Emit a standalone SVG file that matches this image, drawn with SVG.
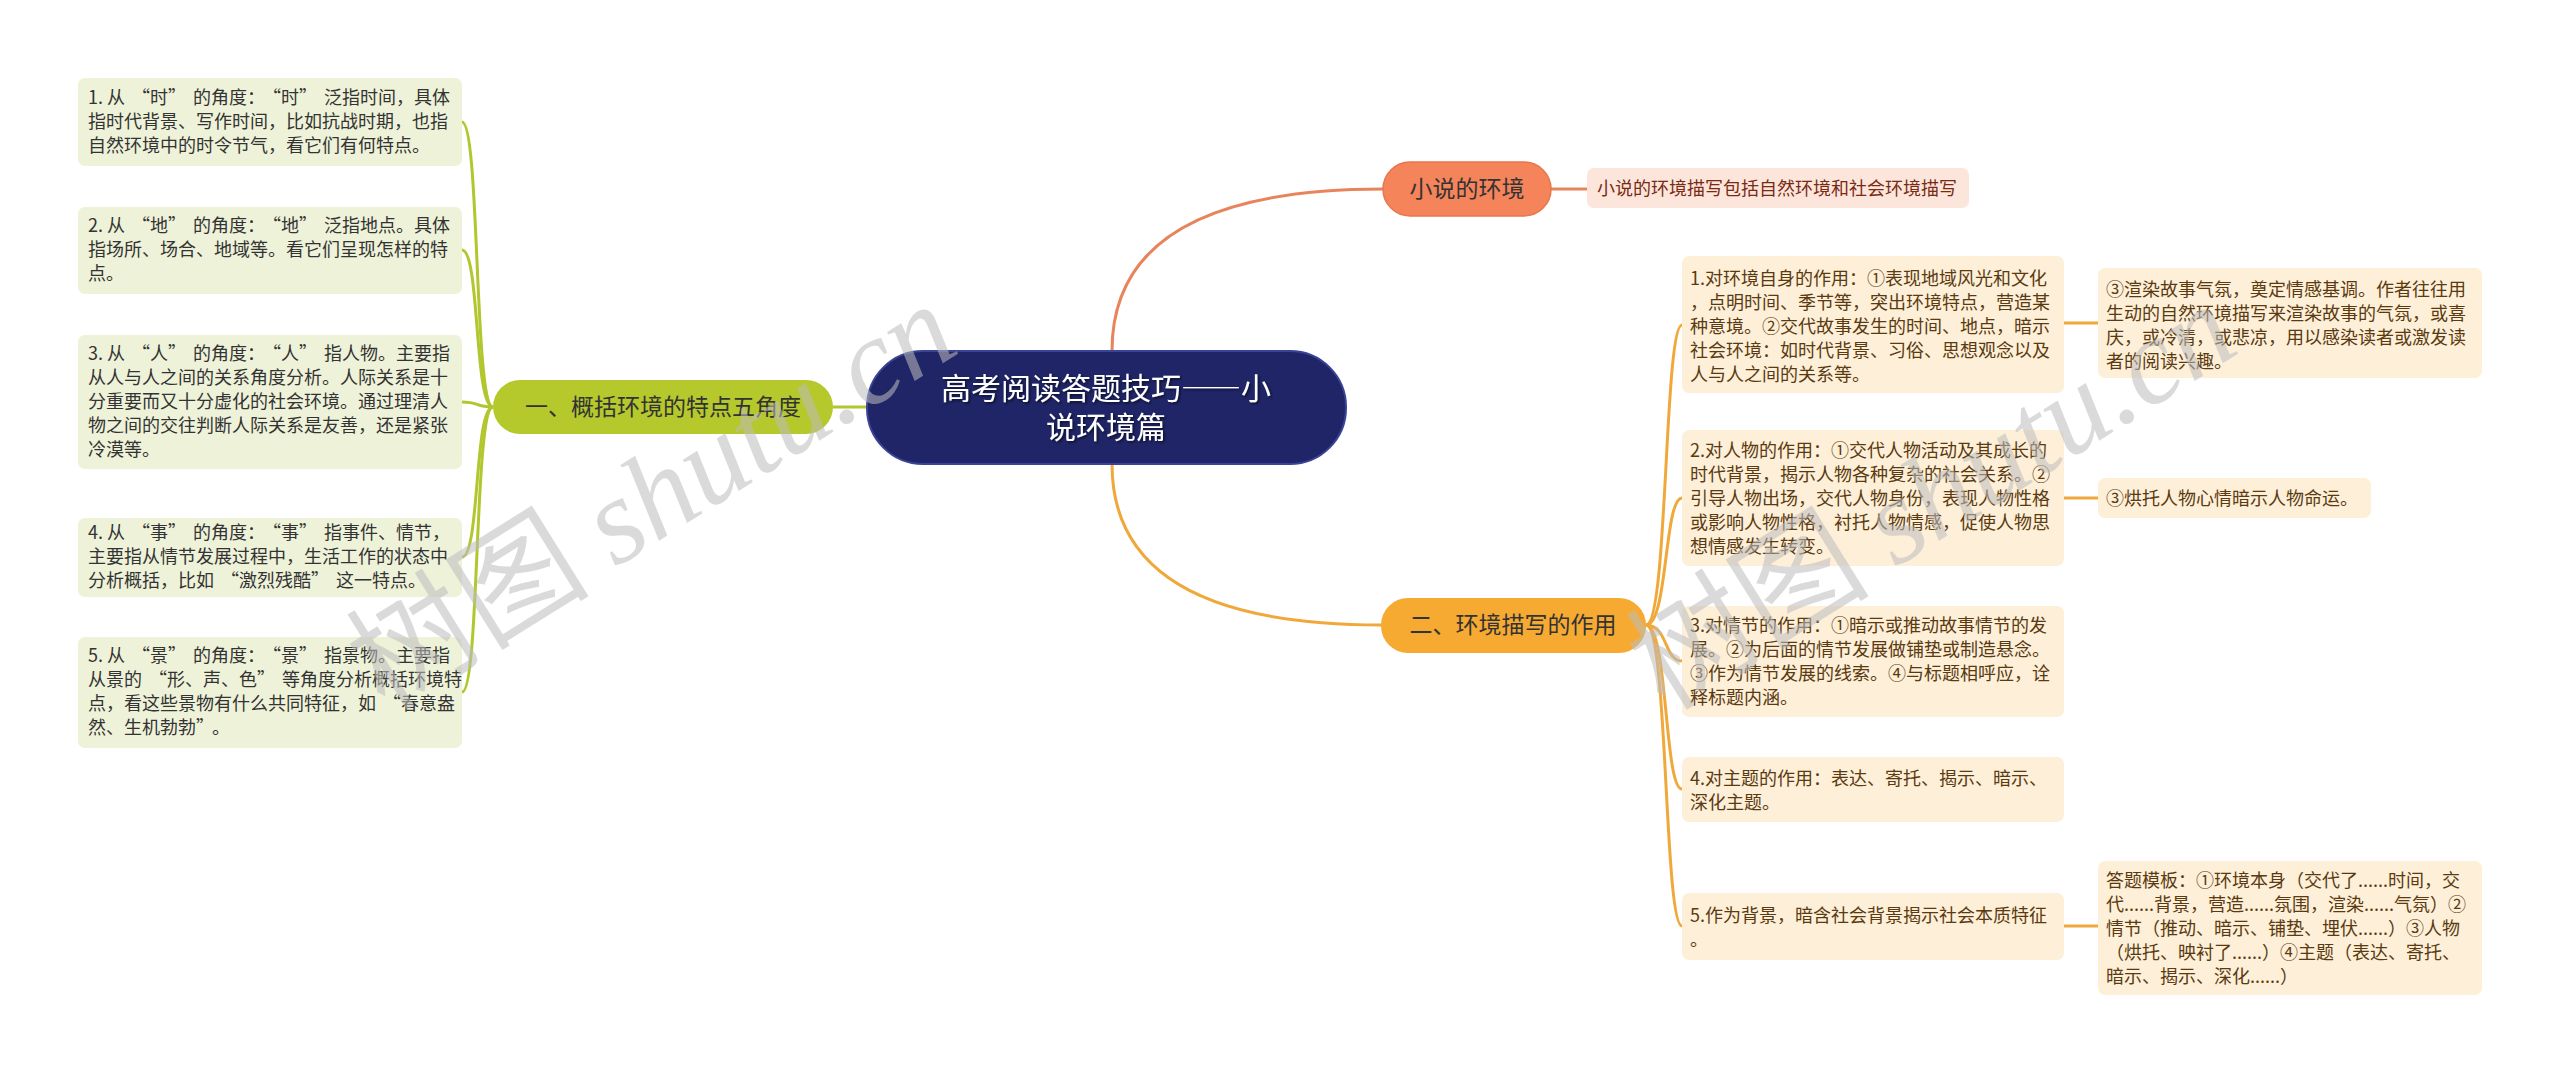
<svg xmlns="http://www.w3.org/2000/svg" width="2560" height="1075" viewBox="0 0 2560 1075" xml:lang="zh-CN" lang="zh-CN">
<style>
text{font-family:"Noto Sans CJK SC","Noto Sans",sans-serif;}
.lf{fill:#eef2d8;}
.lt{font-size:18px;fill:#333333;}
.rf{fill:#fdefd8;}
.rt{font-size:18px;fill:#5a3a10;}
.pf{fill:#fce6dc;}
.pt{font-size:18px;fill:#7a2a12;}
.bt{font-size:23px;fill:#333333;text-anchor:middle;}
.ct{font-size:30px;fill:#ffffff;text-anchor:middle;}
.g{fill:none;stroke:#b2c62e;stroke-width:3;}
.o{fill:none;stroke:#f0a83a;stroke-width:3;}
.r{fill:none;stroke:#e8845c;stroke-width:3;}
.wm{font-size:122px;fill:#bdbdbd;opacity:0.55;}
</style>
<defs>
  <filter id="ts" x="-10%" y="-30%" width="120%" height="160%">
    <feDropShadow dx="1.5" dy="1.5" stdDeviation="1" flood-color="#000000" flood-opacity="0.6"/>
  </filter>
</defs>
<rect width="2560" height="1075" fill="#ffffff"/>

<g id="connectors">
  <path class="g" d="M867 407 L833 407"/>
  <path class="g" d="M493 407 C474 407 480 122 462 122"/>
  <path class="g" d="M493 407 C474 407 480 250 462 250"/>
  <path class="g" d="M493 407 C474 407 480 402 462 402"/>
  <path class="g" d="M493 407 C474 407 480 557 462 557"/>
  <path class="g" d="M493 407 C474 407 480 692 462 692"/>
  <path class="r" d="M1112 351 Q1112 189 1383 189"/>
  <path class="r" d="M1551 189 L1587 189"/>
  <path class="o" d="M1112 464 Q1112 625 1381 625"/>
  <path class="o" d="M1646 625 C1668 625 1664 325 1682 325"/>
  <path class="o" d="M1646 625 C1668 625 1664 498 1682 498"/>
  <path class="o" d="M1646 625 C1668 625 1664 661 1682 661"/>
  <path class="o" d="M1646 625 C1668 625 1664 789 1682 789"/>
  <path class="o" d="M1646 625 C1668 625 1664 926 1682 926"/>
  <path class="o" d="M2064 323 L2098 323"/>
  <path class="o" d="M2064 498 L2098 498"/>
  <path class="o" d="M2064 926 L2098 926"/>
</g>

<g id="center">
  <rect x="867" y="351" width="479" height="113" rx="56" fill="#1f2566" stroke="#3a4496" stroke-width="2"/>
  <text class="ct" x="1106" y="399" filter="url(#ts)">高考阅读答题技巧——小</text>
  <text class="ct" x="1106" y="438" filter="url(#ts)">说环境篇</text>
</g>

<g id="branch1">
  <rect x="493" y="380" width="340" height="54" rx="27" fill="#b5c82c"/>
  <text class="bt" x="663" y="415">一、概括环境的特点五角度</text>
</g>

<g id="leaf-l1">
  <rect class="lf" x="78" y="78" width="384" height="88" rx="7"/>
  <text class="lt" x="88" y="104">1. 从<tspan dx="7">“</tspan>时”<tspan dx="7">的角度：</tspan><tspan dx="7">“</tspan>时”<tspan dx="7">泛指时间，具体</tspan></text>
  <text class="lt" x="88" y="128">指时代背景、写作时间，比如抗战时期，也指</text>
  <text class="lt" x="88" y="152">自然环境中的时令节气，看它们有何特点。</text>
</g>
<g id="leaf-l2">
  <rect class="lf" x="78" y="207" width="384" height="87" rx="7"/>
  <text class="lt" x="88" y="232">2. 从<tspan dx="7">“</tspan>地”<tspan dx="7">的角度：</tspan><tspan dx="7">“</tspan>地”<tspan dx="7">泛指地点。具体</tspan></text>
  <text class="lt" x="88" y="256">指场所、场合、地域等。看它们呈现怎样的特</text>
  <text class="lt" x="88" y="280">点。</text>
</g>
<g id="leaf-l3">
  <rect class="lf" x="78" y="335" width="384" height="134" rx="7"/>
  <text class="lt" x="88" y="360">3. 从<tspan dx="7">“</tspan>人”<tspan dx="7">的角度：</tspan><tspan dx="7">“</tspan>人”<tspan dx="7">指人物。主要指</tspan></text>
  <text class="lt" x="88" y="384">从人与人之间的关系角度分析。人际关系是十</text>
  <text class="lt" x="88" y="408">分重要而又十分虚化的社会环境。通过理清人</text>
  <text class="lt" x="88" y="432">物之间的交往判断人际关系是友善，还是紧张</text>
  <text class="lt" x="88" y="456">冷漠等。</text>
</g>
<g id="leaf-l4">
  <rect class="lf" x="78" y="518" width="384" height="79" rx="7"/>
  <text class="lt" x="88" y="539">4. 从<tspan dx="7">“</tspan>事”<tspan dx="7">的角度：</tspan><tspan dx="7">“</tspan>事”<tspan dx="7">指事件、情节，</tspan></text>
  <text class="lt" x="88" y="563">主要指从情节发展过程中，生活工作的状态中</text>
  <text class="lt" x="88" y="587">分析概括，比如<tspan dx="7">“</tspan>激烈残酷”<tspan dx="7">这一特点。</tspan></text>
</g>
<g id="leaf-l5">
  <rect class="lf" x="78" y="637" width="384" height="111" rx="7"/>
  <text class="lt" x="88" y="662">5. 从<tspan dx="7">“</tspan>景”<tspan dx="7">的角度：</tspan><tspan dx="7">“</tspan>景”<tspan dx="7">指景物。主要指</tspan></text>
  <text class="lt" x="88" y="686">从景的<tspan dx="7">“</tspan>形、声、色”<tspan dx="7">等角度分析概括环境特</tspan></text>
  <text class="lt" x="88" y="710">点，看这些景物有什么共同特征，如<tspan dx="7">“</tspan>春意盎</text>
  <text class="lt" x="88" y="734">然、生机勃勃”<tspan dx="7">。</tspan></text>
</g>

<g id="branch-top">
  <rect x="1383" y="162" width="168" height="54" rx="27" fill="#f5845b" stroke="#e9764c" stroke-width="1.5"/>
  <text class="bt" x="1467" y="197">小说的环境</text>
</g>
<g id="leaf-top">
  <rect class="pf" x="1587" y="168" width="382" height="40" rx="7"/>
  <text class="pt" x="1597" y="195">小说的环境描写包括自然环境和社会环境描写</text>
</g>

<g id="branch2">
  <rect x="1381" y="598" width="265" height="55" rx="27" fill="#f6aa32"/>
  <text class="bt" x="1513" y="633">二、环境描写的作用</text>
</g>

<g id="leaf-r1">
  <rect class="rf" x="1682" y="256" width="382" height="137" rx="7"/>
  <text class="rt" x="1690" y="285">1.对环境自身的作用：①表现地域风光和文化</text>
  <text class="rt" x="1690" y="309">，点明时间、季节等，突出环境特点，营造某</text>
  <text class="rt" x="1690" y="333">种意境。②交代故事发生的时间、地点，暗示</text>
  <text class="rt" x="1690" y="357">社会环境：如时代背景、习俗、思想观念以及</text>
  <text class="rt" x="1690" y="381">人与人之间的关系等。</text>
</g>
<g id="leaf-r1a">
  <rect class="rf" x="2098" y="268" width="384" height="110" rx="7"/>
  <text class="rt" x="2106" y="296">③渲染故事气氛，奠定情感基调。作者往往用</text>
  <text class="rt" x="2106" y="320">生动的自然环境描写来渲染故事的气氛，或喜</text>
  <text class="rt" x="2106" y="344">庆，或冷清，或悲凉，用以感染读者或激发读</text>
  <text class="rt" x="2106" y="368">者的阅读兴趣。</text>
</g>

<g id="leaf-r2">
  <rect class="rf" x="1682" y="430" width="382" height="136" rx="7"/>
  <text class="rt" x="1690" y="457">2.对人物的作用：①交代人物活动及其成长的</text>
  <text class="rt" x="1690" y="481">时代背景，揭示人物各种复杂的社会关系。②</text>
  <text class="rt" x="1690" y="505">引导人物出场，交代人物身份，表现人物性格</text>
  <text class="rt" x="1690" y="529">或影响人物性格，衬托人物情感，促使人物思</text>
  <text class="rt" x="1690" y="553">想情感发生转变。</text>
</g>
<g id="leaf-r2a">
  <rect class="rf" x="2098" y="478" width="273" height="40" rx="7"/>
  <text class="rt" x="2106" y="505">③烘托人物心情暗示人物命运。</text>
</g>

<g id="leaf-r3">
  <rect class="rf" x="1682" y="606" width="382" height="111" rx="7"/>
  <text class="rt" x="1690" y="632">3.对情节的作用：①暗示或推动故事情节的发</text>
  <text class="rt" x="1690" y="656">展。②为后面的情节发展做铺垫或制造悬念。</text>
  <text class="rt" x="1690" y="680">③作为情节发展的线索。④与标题相呼应，诠</text>
  <text class="rt" x="1690" y="704">释标题内涵。</text>
</g>

<g id="leaf-r4">
  <rect class="rf" x="1682" y="757" width="382" height="65" rx="7"/>
  <text class="rt" x="1690" y="785">4.对主题的作用：表达、寄托、揭示、暗示、</text>
  <text class="rt" x="1690" y="809">深化主题。</text>
</g>

<g id="leaf-r5">
  <rect class="rf" x="1682" y="893" width="382" height="67" rx="7"/>
  <text class="rt" x="1690" y="922">5.作为背景，暗含社会背景揭示社会本质特征</text>
  <text class="rt" x="1690" y="946">。</text>
</g>
<g id="leaf-r5a">
  <rect class="rf" x="2098" y="861" width="384" height="134" rx="7"/>
  <text class="rt" x="2106" y="887">答题模板：①环境本身（交代了......时间，交</text>
  <text class="rt" x="2106" y="911">代......背景，营造......氛围，渲染......气氛）②</text>
  <text class="rt" x="2106" y="935">情节（推动、暗示、铺垫、埋伏......）③人物</text>
  <text class="rt" x="2106" y="959">（烘托、映衬了......）④主题（表达、寄托、</text>
  <text class="rt" x="2106" y="983">暗示、揭示、深化......）</text>
</g>

<g id="watermarks">
  <text class="wm" x="385" y="712" transform="rotate(-32 385 712)">树图 <tspan font-family="Liberation Serif" font-style="italic">shutu.cn</tspan></text>
  <text class="wm" x="1665" y="712" transform="rotate(-32 1665 712)">树图 <tspan font-family="Liberation Serif" font-style="italic">shutu.cn</tspan></text>
</g>
</svg>
